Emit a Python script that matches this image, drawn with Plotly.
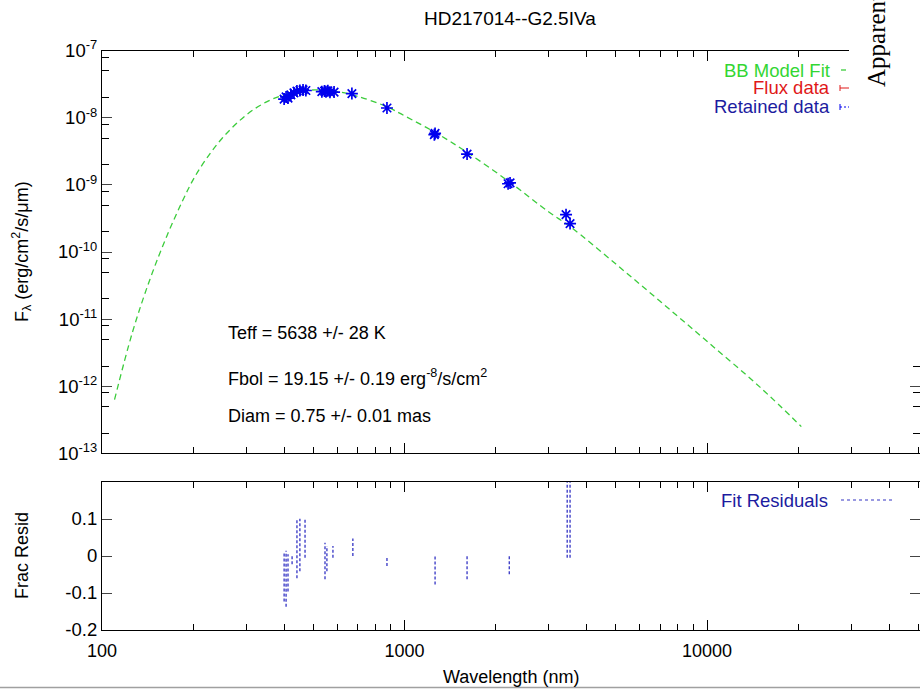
import plotly.graph_objects as go

# ---------------- data ----------------
title_text = "HD217014--G2.5IVa"

# BB model fit curve (wavelength nm, flux erg/cm2/s/um)
model_wl = [110, 126, 144, 164, 185, 200, 220, 250, 300, 350, 400, 450, 514,
            600, 700, 875, 1000, 1262, 1610, 2233, 3000, 3526, 5000, 7000,
            10000, 15000, 20500]
model_flux = [6.3e-13, 6.3e-12, 3.9e-11, 1.75e-10, 5.9e-10, 1.19e-9, 2.36e-9,
              5.0e-9, 1.105e-8, 1.73e-8, 2.20e-8, 2.51e-8, 2.60e-8,
              2.46e-8, 2.09e-8, 1.46e-8, 1.07e-8, 6.07e-9, 3.06e-9, 1.09e-9,
              3.94e-10, 2.40e-10, 6.6e-11, 1.84e-11,
              4.67e-12, 9.6e-13, 2.5e-13]

# Retained photometric data
data_wl = [400, 406, 412, 421, 431, 441, 451, 462, 472, 533, 544, 550, 558,
           567, 585, 670, 875, 1255, 1262, 1610, 2200, 2233, 3420, 3526]
data_flux = [1.90e-8, 2.05e-8, 1.97e-8, 2.20e-8, 2.35e-8, 2.50e-8, 2.55e-8,
             2.60e-8, 2.55e-8, 2.45e-8, 2.50e-8, 2.45e-8, 2.52e-8,
             2.40e-8, 2.42e-8, 2.30e-8, 1.40e-8, 5.6e-9, 5.85e-9, 2.88e-9,
             1.04e-9, 1.07e-9, 3.6e-10, 2.65e-10]

# Fractional residual segments (wavelength, low, high)
resid_wl = [400, 406, 412, 425, 441, 451, 469, 546, 554, 580, 675, 875,
            1262, 1610, 2220, 3450, 3526]
resid_lo = [-0.123, -0.137, -0.096, -0.022, -0.060, -0.041, -0.005, -0.063,
            -0.041, -0.005, 0.0, -0.027, -0.077, -0.063, -0.049, -0.005, -0.005]
resid_hi = [0.008, 0.014, 0.005, 0.005, 0.101, 0.101, 0.101, 0.036,
            0.027, 0.027, 0.047, 0.0, 0.0, 0.0, 0.0, 0.2, 0.2]

flux_tick_vals = [1e-13, 1e-12, 1e-11, 1e-10, 1e-9, 1e-8, 1e-7]
flux_tick_text = ["10<sup>-13</sup>", "10<sup>-12</sup>", "10<sup>-11</sup>",
                  "10<sup>-10</sup>", "10<sup>-9</sup>", "10<sup>-8</sup>",
                  "10<sup>-7</sup>"]
res_tick_vals = [-0.2, -0.1, 0, 0.1]
res_tick_text = ["-0.2", "-0.1", "0", "0.1"]
wl_tick_vals = [100, 1000, 10000]
wl_tick_text = ["100", "1000", "10000"]

# ---------------- layout helpers ----------------
W, H = 920, 689
L = 102
PW = W - L


def px(x):
    return (x - L) / PW


def py(y):
    return 1 - y / H


FONT = "Liberation Sans, Arial, Helvetica, sans-serif"
GREEN = "#3ccc3c"
BLUE = "#0000ee"
RBLUE = "#3434c4"

res_x, res_y = [], []
for w, lo, hi in zip(resid_wl, resid_lo, resid_hi):
    res_x += [w, w, None]
    res_y += [lo, hi, None]

fig = go.Figure()
fig.add_trace(go.Scatter(x=model_wl, y=model_flux, mode="lines",
                         line=dict(color=GREEN, width=1.3, dash="6px,4px"),
                         xaxis="x", yaxis="y", showlegend=False,
                         line_shape="spline"))
fig.add_trace(go.Scatter(x=data_wl, y=data_flux, mode="markers",
                         marker=dict(symbol="asterisk-open", size=10, color=BLUE,
                                     line=dict(color=BLUE, width=1.7)),
                         xaxis="x", yaxis="y", showlegend=False))
fig.add_trace(go.Scatter(x=res_x, y=res_y, mode="lines",
                         line=dict(color=RBLUE, width=1.3, dash="3px,2px"),
                         xaxis="x2", yaxis="y2", showlegend=False,
                         connectgaps=False))

minor_x = [m * 10 ** e for e in (2, 3, 4) for m in range(2, 10)]
minor_y = [m * 10.0 ** e for e in range(-13, -7) for m in (2, 5, 8)]

xr = [2, 2 + PW / 302.5]
common_x = dict(type="log", range=xr, showline=True, linecolor="black",
                linewidth=1.2, mirror="allticks", ticks="inside", ticklen=10,
                tickcolor="black", tickvals=wl_tick_vals, showgrid=False,
                zeroline=False,
                minor=dict(tickvals=minor_x, ticks="inside", ticklen=6,
                           tickcolor="black", showgrid=False))

fig.update_layout(
    width=W, height=H,
    margin=dict(l=L, r=0, t=0, b=0, autoexpand=False),
    paper_bgcolor="white", plot_bgcolor="white",
    font=dict(family=FONT, size=18, color="black"),
    xaxis=dict(domain=[0, 1], anchor="y", showticklabels=False, **common_x),
    xaxis2=dict(domain=[0, 1], anchor="y2", matches="x", ticktext=wl_tick_text,
                tickfont=dict(size=18), ticklabelstandoff=4, **common_x),
    yaxis=dict(domain=[py(453.3), py(50.7)], anchor="x", type="log",
               range=[-13, -7], showline=True, linecolor="black",
               linewidth=1.2, mirror="allticks", ticks="inside", ticklen=10,
               tickvals=flux_tick_vals, ticktext=flux_tick_text,
               tickfont=dict(size=18.5), showgrid=False, zeroline=False,
               minor=dict(tickvals=minor_y, ticks="inside", ticklen=7,
                          tickcolor="black", showgrid=False)),
    yaxis2=dict(domain=[py(630), py(482)], anchor="x2", range=[-0.2, 0.2],
                showline=True, linecolor="black", linewidth=1.2,
                mirror="allticks", ticks="inside", ticklen=10,
                tickvals=res_tick_vals, ticktext=res_tick_text,
                tickfont=dict(size=18.5), showgrid=False, zeroline=False),
)

ann = []
ann.append(dict(text=title_text, x=px(510), y=py(18), xref="paper", yref="paper",
                showarrow=False, font=dict(size=19), xanchor="center", yanchor="middle"))
ann.append(dict(text="F<sub>λ</sub> (erg/cm<sup>2</sup>/s/μm)", x=px(22), y=py(252),
                xref="paper", yref="paper", showarrow=False, textangle=-90,
                font=dict(size=18), xanchor="center", yanchor="middle"))
ann.append(dict(text="Frac Resid", x=px(22), y=py(556), xref="paper", yref="paper",
                showarrow=False, textangle=-90, font=dict(size=18),
                xanchor="center", yanchor="middle"))
ann.append(dict(text="Wavelength (nm)", x=px(511), y=py(677), xref="paper",
                yref="paper", showarrow=False, font=dict(size=18),
                xanchor="center", yanchor="middle"))
for txt, yy in [("Teff = 5638 +/- 28 K", 333),
                ("Fbol = 19.15 +/- 0.19 erg<sup>-8</sup>/s/cm<sup>2</sup>", 378),
                ("Diam = 0.75 +/- 0.01 mas", 416)]:
    ann.append(dict(text=txt, x=px(226), y=py(yy), xref="paper", yref="paper",
                    showarrow=False, font=dict(size=18), xanchor="left",
                    yanchor="middle"))
for txt, col, yy in [("BB Model Fit", "#33d633", 70), ("Flux data", "#e01818", 88),
                     ("Retained data", "#1c1ca0", 107)]:
    ann.append(dict(text=txt, x=px(832), y=py(yy), xref="paper", yref="paper",
                    showarrow=False, font=dict(size=18.5, color=col), xanchor="right",
                    yanchor="middle"))
ann.append(dict(text="Fit Residuals", x=px(830), y=py(500), xref="paper", yref="paper",
                showarrow=False, font=dict(size=18.5, color="#1c1ca0"), xanchor="right",
                yanchor="middle"))

shapes = []
# white overlay on the right (part of a neighbouring figure)
shapes.append(dict(type="rect", xref="paper", yref="paper", x0=px(849), x1=px(921),
                   y0=py(362), y1=py(-2), fillcolor="white", line=dict(width=0),
                   layer="above"))
ann.append(dict(text="Apparent Magnitude", x=px(876), y=py(89), xref="paper",
                yref="paper", showarrow=False, textangle=-90,
                font=dict(size=25, family="Liberation Serif, Times New Roman, serif"),
                xanchor="center", yanchor="bottom"))
# legend samples
shapes.append(dict(type="line", xref="paper", yref="paper", x0=px(841), x1=px(846),
                   y0=py(70), y1=py(70), line=dict(color=GREEN, width=1.3),
                   layer="above"))
shapes.append(dict(type="line", xref="paper", yref="paper", x0=px(840), x1=px(849),
                   y0=py(88), y1=py(88), line=dict(color="#e01818", width=1),
                   layer="above"))
shapes.append(dict(type="line", xref="paper", yref="paper", x0=px(840), x1=px(840),
                   y0=py(85), y1=py(91), line=dict(color="#e01818", width=1),
                   layer="above"))
shapes.append(dict(type="line", xref="paper", yref="paper", x0=px(840), x1=px(849),
                   y0=py(107), y1=py(107), line=dict(color=BLUE, width=1, dash="2px,2px"),
                   layer="above"))
shapes.append(dict(type="line", xref="paper", yref="paper", x0=px(840), x1=px(840),
                   y0=py(104), y1=py(110), line=dict(color=BLUE, width=1),
                   layer="above"))
shapes.append(dict(type="line", xref="paper", yref="paper", x0=px(841), x1=px(893),
                   y0=py(500), y1=py(500), line=dict(color=RBLUE, width=1.2, dash="3px,3px"),
                   layer="above"))
# grey line at the bottom of the image
shapes.append(dict(type="line", xref="paper", yref="paper", x0=px(0), x1=px(920),
                   y0=py(687.5), y1=py(687.5), line=dict(color="#a0a0a0", width=1.5),
                   layer="above"))

fig.update_layout(annotations=ann, shapes=shapes)
fig.write_html("out.html", config={"displayModeBar": False},
               post_script="document.body.style.margin='0';document.body.style.overflow='hidden';")
